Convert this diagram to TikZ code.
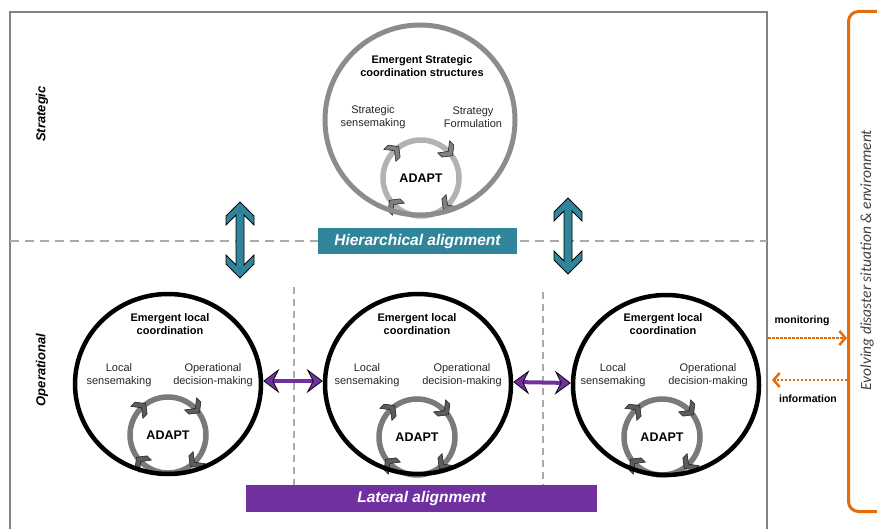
\documentclass[tikz,border=0pt]{standalone}
\usepackage{fontspec}
\setmainfont{Liberation Sans}
\newfontfamily\envfont{Carlito}
\usetikzlibrary{shapes.geometric,arrows.meta,calc}

\definecolor{hiercol}{RGB}{49,133,155}
\definecolor{latcol}{RGB}{112,48,160}
\definecolor{envcol}{RGB}{228,108,10}
\definecolor{dashcol}{RGB}{170,170,170}
\definecolor{framecol}{RGB}{130,130,130}
\definecolor{stratcol}{RGB}{140,140,140}

\tikzset{
	LatTip/.tip={Stealth[length=16pt,width=24pt,inset=6pt,line width=0.7pt,fill=latcol,color=black]},
	EnvTip/.tip={Straight Barb[length=6pt,width=14pt,line width=2.5pt]},
	opcirc/.style={draw=black,line width=4.5pt,ellipse,minimum width=186pt,minimum height=180pt,inner sep=0pt},
	stcirc/.style={draw=stratcol,line width=5pt,circle,minimum size=190pt,inner sep=0pt},
	circtitle/.style={font=\fontsize{11}{13.5}\selectfont\bfseries,align=center},
	circtext/.style={font=\fontsize{11}{13.5}\selectfont,align=center,text=black!85},
	adapttext/.style={font=\fontsize{12.5}{14}\selectfont\bfseries},
	levellabel/.style={rotate=90,font=\fontsize{13}{15}\selectfont\bfseries\itshape},
	barlabel/.style={text=white,font=\fontsize{15.5}{17}\selectfont\bfseries\itshape,inner sep=0pt},
	chev/.style={line width=0.6pt,draw=black!85},
	hierarrow/.style={fill=hiercol,draw=black,line width=0.9pt,line join=miter},
	latarrow/.style={draw=latcol,line width=4pt,arrows={LatTip-LatTip}},
	envarrow/.style={draw=envcol,line width=2.5pt,dash pattern=on 2.5pt off 1.5pt,arrows={-EnvTip}},
	graydash/.style={draw=dashcol,line width=2.5pt,dash pattern=on 9pt off 6pt}
}

\begin{document}
\begin{tikzpicture}[x=1pt,y=1pt]
	\useasboundingbox (0,0) rectangle (877,-529);
	\clip (0,0) rectangle (877,-529);
	
	% frame and separators
	\draw[framecol,line width=1.2pt] (10,-540) -- (10,-12) -- (767,-12) -- (767,-540);
	\draw[graydash] (10,-241) -- (767,-241);
	\draw[graydash,line width=2pt,dash pattern=on 7pt off 5pt] (294,-287) -- (294,-485);
	\draw[graydash,line width=2pt,dash pattern=on 7pt off 5pt] (543,-292) -- (543,-485);
	
	\node[levellabel] (strat) at (42,-114) {Strategic};
	\node[levellabel] (oper) at (42,-370) {Operational};
	
	% adapt cycles
	\node[adapttext] (stad) at (421,-178) {ADAPT};
	\node[adapttext] (op1ad) at (168,-435) {ADAPT};
	\node[adapttext] (op2ad) at (417,-437) {ADAPT};
	\node[adapttext] (op3ad) at (662,-437) {ADAPT};
	\foreach \c/\rc/\cf in {stad/black!30/black!50, op1ad/black!52/black!64, op2ad/black!52/black!64, op3ad/black!52/black!64}
	{
		\draw[\rc,line width=5.5pt] (\c.center) circle (38);
		\foreach \a in {135,45,-45,-135}
		\filldraw[chev,fill=\cf,shift={($(\c.center)+(\a:38)$)},rotate=\a-90]
			(-6,8.5) -- (0,8.5) -- (6.5,0) -- (0,-8.5) -- (-6,-8.5) -- (0.5,0) -- cycle;
	}
	
	% strategic level
	\node[stcirc] (st) at (420,-120) {};
	\node[circtitle] (sttitle) at (422,-66) {Emergent Strategic\\coordination structures};
	\node[circtext] (stsense) at (373,-117) {Strategic\\sensemaking};
	\node[circtext] (stform) at (473,-117) {Strategy\\Formulation};
	
	% operational level
	\node[opcirc] (op1) at (168,-384) {};
	\node[opcirc] (op2) at (418,-384) {};
	\node[opcirc] (op3) at (666,-385) {};
	\foreach \n/\x/\ls/\od in {op1/170/119/213, op2/417/367/462, op3/663/613/708}
	{
		\node[circtitle] (\n title) at (\x,-324) {Emergent local\\coordination};
		\node[circtext] (\n sense) at (\ls,-375) {Local\\sensemaking};
		\node[circtext] (\n dec) at (\od,-375) {Operational\\decision-making};
	}
	
	\draw[latarrow] ([yshift=3pt]op1.east) -- ([yshift=3pt]op2.west);
	\draw[latarrow] ([yshift=2pt]op2.east) -- ([yshift=2pt]op3.west);
	
	% alignment
	\node[fill=hiercol,minimum width=199pt,minimum height=26pt,barlabel] (hier) at (417.5,-241) {Hierarchical alignment};
	\node[fill=latcol,minimum width=351pt,minimum height=27pt,barlabel] (lat) at (421.5,-498.5) {Lateral alignment};
	\coordinate (h1) at (240,-240);
	\coordinate (h2) at (568,-236);
	\foreach \h in {h1,h2}
	\filldraw[hierarrow,shift={(\h)}] (0,38) -- (14,24) -- (14,15) -- (4,25) -- (4,-25) -- (14,-15) -- (14,-24)
		-- (0,-38) -- (-14,-24) -- (-14,-15) -- (-4,-25) -- (-4,25) -- (-14,15) -- (-14,24) -- cycle;
	
	% environment
	\node[draw=envcol,line width=3pt,rounded corners=10pt,minimum width=70pt,minimum height=500pt,anchor=north west] (env) at (847,-10) {};
	\node[rotate=90,text=black!75,font=\envfont\itshape\fontsize{15.5}{17}\selectfont] (envtxt) at (867,-260) {Evolving disaster situation \& environment};
	\coordinate (mon) at (768,-338);
	\coordinate (inf) at (772,-380);
	\draw[envarrow] (mon) -- (mon -| env.west);
	\draw[envarrow] (inf -| env.west) -- (inf);
	\node[font=\fontsize{10.5}{13}\selectfont\bfseries] (monlbl) at (802,-321) {monitoring};
	\node[font=\fontsize{10.5}{13}\selectfont\bfseries] (inflbl) at (808,-399) {information};
\end{tikzpicture}
\end{document}
